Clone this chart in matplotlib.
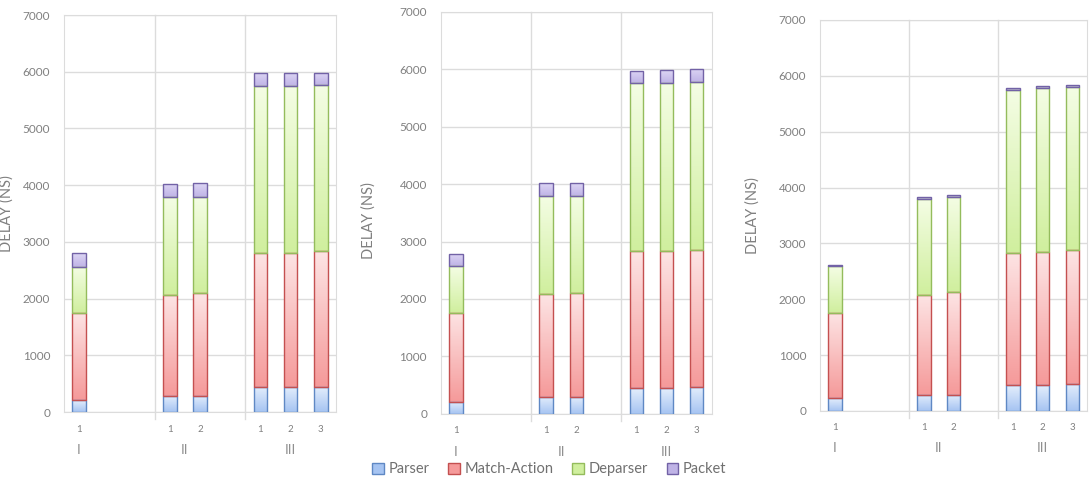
import matplotlib
matplotlib.use("Agg")
import matplotlib.pyplot as plt
import numpy as np
from matplotlib.colors import LinearSegmentedColormap
from matplotlib.patches import Patch

plt.rcParams["font.family"] = ["Lato", "DejaVu Sans"]

# slot positions: 3 slots per group, groups I, II, III
POSITIONS = [0, 3, 4, 6, 7, 8]
BAR_LABELS = ["1", "1", "2", "1", "2", "3"]
GROUPS = ["I", "II", "III"]
GROUP_CENTERS = [0, 3.5, 7]
SERIES = ["Parser", "Match-Action", "Deparser", "Packet"]

# cumulative tops (ns); segment = difference
P1_PARSER = [205, 285, 285, 445, 445, 445]
P1_MATCH = [1745, 2070, 2095, 2810, 2810, 2840]
P1_DEPARSER = [2560, 3790, 3800, 5750, 5750, 5760]
P1_PACKET = [2805, 4025, 4045, 5980, 5980, 5985]

P2_PARSER = [210, 300, 300, 445, 445, 470]
P2_MATCH = [1760, 2080, 2100, 2830, 2830, 2850]
P2_DEPARSER = [2570, 3790, 3800, 5750, 5760, 5770]
P2_PACKET = [2790, 4010, 4025, 5975, 5980, 6000]

P3_PARSER = [230, 292, 292, 460, 460, 485]
P3_MATCH = [1760, 2085, 2125, 2830, 2850, 2878]
P3_DEPARSER = [2590, 3795, 3835, 5750, 5785, 5805]
P3_PACKET = [2620, 3823, 3864, 5776, 5812, 5835]

PANELS = [
    (P1_PARSER, P1_MATCH, P1_DEPARSER, P1_PACKET),
    (P2_PARSER, P2_MATCH, P2_DEPARSER, P2_PACKET),
    (P3_PARSER, P3_MATCH, P3_DEPARSER, P3_PACKET),
]
YTICKS = [0, 1000, 2000, 3000, 4000, 5000, 6000, 7000]

# (dark bottom, light top, edge)
STYLES = [
    ("#a6c4f2", "#e4eefc", "#5f88c4"),
    ("#f59a9a", "#fde4e4", "#c45050"),
    ("#d0ef9e", "#f4fde4", "#94bc5c"),
    ("#bfb3e6", "#ddd6f4", "#7262a6"),
]

AX_RECTS = [
    [0.0586, 0.138, 0.249, 0.8305],
    [0.4038, 0.134, 0.248, 0.8417],
    [0.7510, 0.1402, 0.2445, 0.818],
]
YLABEL_X = [-0.185, -0.24, -0.225]
YLABEL_Y = [0.50, 0.48, 0.50]

GRID = "#dcdcdc"
TXT = "#808080"
WIDTH = 0.45

fig = plt.figure(figsize=(10.92, 4.78), dpi=100)
grad = np.linspace(0, 1, 64).reshape(-1, 1)

for i, tops in enumerate(PANELS):
    ax = fig.add_axes(AX_RECTS[i])
    ax.set_xlim(-0.5, 8.5)
    ax.set_ylim(0, 7000)
    for y in YTICKS:
        ax.axhline(y, color=GRID, lw=1, zorder=0)
    for xb in [2.5, 5.5]:
        ax.plot([xb, xb], [-120, 7000], color=GRID, lw=1, zorder=0,
                clip_on=False)

    bottoms = np.zeros(len(POSITIONS))
    for s, vals in enumerate(tops):
        vals = np.array(vals, dtype=float)
        heights = vals - bottoms
        dark, light, edge = STYLES[s]
        cmap = LinearSegmentedColormap.from_list(f"c{s}", [dark, light])
        bars = ax.bar(POSITIONS, heights, WIDTH, bottom=bottoms,
                      facecolor="none", edgecolor=edge, lw=1.0, zorder=3)
        for b in bars:
            x0, y0 = b.get_x(), b.get_y()
            im = ax.imshow(grad, cmap=cmap, origin="lower", aspect="auto",
                           extent=[x0, x0 + b.get_width(), y0,
                                   y0 + b.get_height()], zorder=2)
            im.set_clip_path(b)
        bottoms = vals
    ax.set_xlim(-0.5, 8.5)
    ax.set_ylim(0, 7000)

    ax.set_yticks(YTICKS)
    ax.tick_params(axis="y", length=0, labelsize=8.5, labelcolor=TXT, pad=10)
    ax.set_xticks(POSITIONS)
    ax.set_xticklabels(BAR_LABELS)
    ax.tick_params(axis="x", length=0, labelsize=7, labelcolor=TXT, pad=9)
    for g, gc in zip(GROUPS, GROUP_CENTERS):
        ax.text(gc, -0.095, g, transform=ax.get_xaxis_transform(),
                ha="center", va="center", fontsize=10, color="#909090")
    for sp in ax.spines.values():
        sp.set_color(GRID)
    ax.set_ylabel("DELAY (NS)", fontsize=10.5, color=TXT)
    ax.yaxis.set_label_coords(YLABEL_X[i], YLABEL_Y[i])

handles = [Patch(facecolor=STYLES[k][0], edgecolor=STYLES[k][2], lw=1)
           for k in range(4)]
fig.legend(handles, SERIES, loc="center", bbox_to_anchor=(0.503, 0.018),
           ncol=4, frameon=False, fontsize=10.5, handlelength=0.8,
           handleheight=0.8, handletextpad=0.3, columnspacing=1.3,
           labelcolor="#707070")

fig.savefig("out.png", dpi=100)
